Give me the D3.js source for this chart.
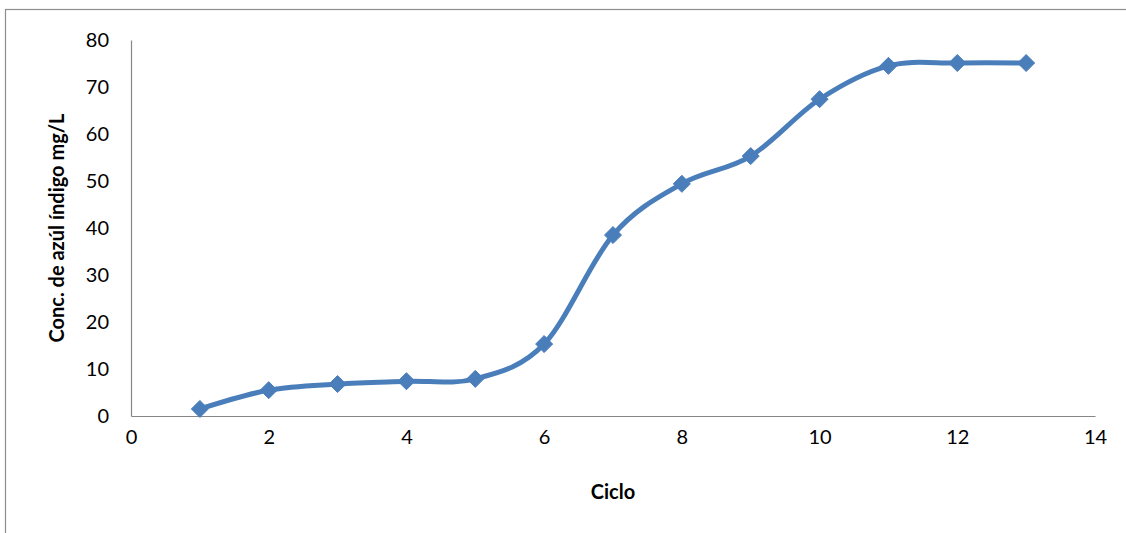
<!DOCTYPE html>
<html><head><meta charset="utf-8">
<script src="https://cdn.jsdelivr.net/npm/d3@7"></script>
<style>body{margin:0;background:#fff}svg{display:block}</style>
</head><body>
<script>
const ciclo = [1,2,3,4,5,6,7,8,9,10,11,12,13];
const conc = [1.5,5.5,6.8,7.4,7.9,15.3,38.5,49.4,55.3,67.4,74.5,75.1,75.1];
const xTicks = [0,2,4,6,8,10,12,14];
const yTicks = [0,10,20,30,40,50,60,70,80];
const xTitle = "Ciclo";
const yTitle = "Conc. de azúl índigo mg/L";

const W = 1126, H = 533;
const svg = d3.select("body").append("svg").attr("width", W).attr("height", H);
const font = "Lato, 'Open Sans', sans-serif";

svg.append("rect").attr("x",5.5).attr("y",9.5).attr("width",1300).attr("height",700)
  .attr("fill","none").attr("stroke","#8c8c8c").attr("stroke-width",1.2);

const x = d3.scaleLinear().domain([0,14]).range([131,1095]);
const y = d3.scaleLinear().domain([0,80]).range([416,40]);

const xa = svg.append("g").attr("transform","translate(0,416)")
  .call(d3.axisBottom(x).tickValues(xTicks).tickSize(0).tickPadding(14));
const ya = svg.append("g").attr("transform","translate(131,0)")
  .call(d3.axisLeft(y).tickValues(yTicks).tickSize(0).tickPadding(22));
[xa,ya].forEach(g=>{
  g.select(".domain").attr("stroke","#868686").attr("stroke-width",1.2);
  g.selectAll("text").attr("font-family",font).attr("font-size",20).attr("fill","#000");
});

const pts = ciclo.map((c,i)=>[c,conc[i]]);
const line = d3.line().x(d=>x(d[0])).y(d=>y(d[1])).curve(d3.curveCatmullRom.alpha(0));
svg.append("path").attr("d",line(pts)).attr("fill","none")
  .attr("stroke","#4a7ebb").attr("stroke-width",5).attr("stroke-linejoin","round");

const sym = d3.symbol().type(d3.symbolDiamond2).size(185);
svg.selectAll(".m").data(pts).enter().append("path")
  .attr("transform",d=>`translate(${x(d[0])},${y(d[1])})`)
  .attr("d", sym).attr("fill","#4a7ebb").attr("stroke","#4a7ebb").attr("stroke-width",1);

svg.append("text").attr("x",613).attr("y",499).attr("text-anchor","middle")
  .attr("font-family",font).attr("font-weight","bold").attr("font-size",20).text(xTitle);
svg.append("text").attr("transform","translate(64,228) rotate(-90)").attr("text-anchor","middle")
  .attr("font-family",font).attr("font-weight","bold").attr("font-size",20).text(yTitle);
</script>
</body></html>
